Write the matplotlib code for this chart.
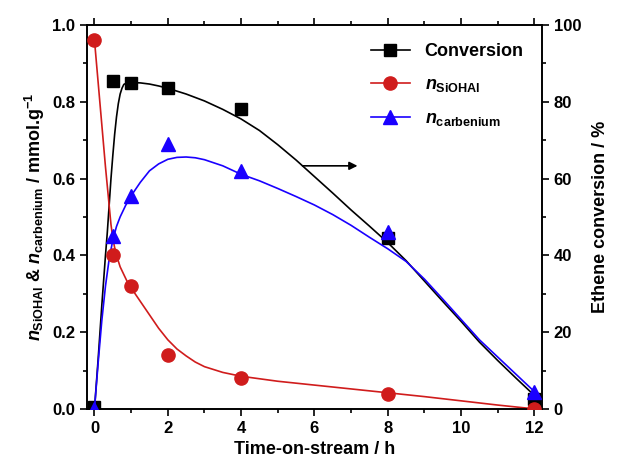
import matplotlib
matplotlib.use('Agg')
import matplotlib.pyplot as plt
from matplotlib.ticker import MultipleLocator, FormatStrFormatter

plt.rcParams['font.family'] = ['Liberation Sans', 'DejaVu Sans']
plt.rcParams['font.weight'] = 'bold'
plt.rcParams['mathtext.fontset'] = 'custom'
plt.rcParams['mathtext.rm'] = 'Liberation Sans:bold'
plt.rcParams['mathtext.bf'] = 'Liberation Sans:bold'
plt.rcParams['mathtext.it'] = 'Liberation Sans:bold:italic'

# measured points
t = [0, 0.5, 1, 2, 4, 8, 12]
conversion = [0.5, 85.5, 85, 83.6, 78, 44.5, 2.5]   # %
n_sioh = [0.96, 0.40, 0.32, 0.14, 0.08, 0.04, 0.0]
n_carb = [0.0, 0.45, 0.555, 0.69, 0.62, 0.46, 0.045]

# fitted curves
t_fit_conv = [0, 0.1, 0.2, 0.3, 0.35, 0.4, 0.45, 0.5, 0.55, 0.6, 0.65, 0.7,
              0.75, 0.8, 0.9, 1, 1.25, 1.5, 1.75, 2, 2.5, 3, 3.5, 4, 4.5, 5,
              5.5, 6, 6.5, 7, 7.5, 8, 8.5, 9, 9.5, 10, 10.5, 11, 11.5, 12]
conv_fit = [0, 13, 27, 40, 46, 53, 60, 66, 71.5, 76, 79.5, 82, 83.5, 84.5, 85,
            85, 84.9, 84.6, 84.1, 83.5, 82, 80.2, 78, 75.5, 72.5, 68.8, 64.8,
            60.5, 56.2, 51.8, 47.6, 43.3, 38.6, 33.3, 28.0, 22.8, 17.4, 12.6,
            8.0, 3.5]
t_fit_sioh = [0, 0.1, 0.2, 0.3, 0.4, 0.45, 0.5, 0.55, 0.6, 0.7, 0.8, 0.9, 1,
              1.25, 1.5, 1.75, 2, 2.25, 2.5, 2.75, 3, 3.5, 4, 5, 6, 7, 8, 9,
              10, 11, 12]
sioh_fit = [0.96, 0.85, 0.74, 0.63, 0.53, 0.48, 0.445, 0.42, 0.40, 0.37, 0.35,
            0.33, 0.315, 0.28, 0.245, 0.21, 0.18, 0.156, 0.138, 0.122, 0.11,
            0.095, 0.085, 0.072, 0.062, 0.052, 0.042, 0.032, 0.021, 0.01, 0.0]
t_fit_carb = [0, 0.1, 0.2, 0.3, 0.4, 0.5, 0.6, 0.7, 0.85, 1, 1.25, 1.5, 1.75,
              2, 2.25, 2.5, 2.75, 3, 3.5, 4, 4.5, 5, 5.5, 6, 6.5, 7, 7.5, 8,
              8.5, 9, 9.5, 10, 10.5, 11, 11.5, 12]
carb_fit = [0, 0.12, 0.23, 0.32, 0.39, 0.44, 0.475, 0.50, 0.53, 0.555, 0.59,
            0.62, 0.638, 0.65, 0.655, 0.656, 0.654, 0.649, 0.633, 0.611, 0.594,
            0.574, 0.553, 0.531, 0.506, 0.478, 0.447, 0.417, 0.384, 0.338,
            0.286, 0.233, 0.18, 0.135, 0.09, 0.045]

red = '#d01c1c'
blue = '#1a00ff'

fig = plt.figure(figsize=(6.27, 4.70), dpi=100)
ax = fig.add_axes([0.139, 0.130, 0.725, 0.817])
ax2 = ax.twinx()

ax2.plot(t_fit_conv, conv_fit, color='black', lw=1.2)
ax2.plot(t, conversion, 's', color='black', ms=8.5, zorder=5)
ax.plot(t_fit_sioh, sioh_fit, color=red, lw=1.2)
ax.plot(t, n_sioh, 'o', color=red, ms=9.5, zorder=5)
ax.plot(t_fit_carb, carb_fit, color=blue, lw=1.2)
ax.plot(t, n_carb, '^', color=blue, ms=10, zorder=5)

ax.set_zorder(ax2.get_zorder() + 1)
ax.patch.set_visible(False)

ax.annotate('', xy=(7.25, 0.633), xytext=(5.6, 0.633),
            arrowprops=dict(arrowstyle='-|>', color='black', lw=1.2,
                            mutation_scale=12))

ax.set_xlim(-0.2, 12.2)
ax.set_ylim(0, 1.0)
ax2.set_ylim(0, 100)

ax.xaxis.set_major_locator(MultipleLocator(2))
ax.xaxis.set_minor_locator(MultipleLocator(1))
ax.yaxis.set_major_locator(MultipleLocator(0.2))
ax.yaxis.set_minor_locator(MultipleLocator(0.1))
ax.yaxis.set_major_formatter(FormatStrFormatter('%.1f'))
ax2.yaxis.set_major_locator(MultipleLocator(20))
ax2.yaxis.set_minor_locator(MultipleLocator(10))

ax.tick_params(which='both', direction='out', labelsize=12, width=1.2)
ax.tick_params(which='major', length=5)
ax.tick_params(which='minor', length=3)
ax.tick_params(axis='x', which='both', top=True, labeltop=False)
ax2.tick_params(which='both', direction='out', labelsize=12, width=1.2)
ax2.tick_params(which='major', length=5)
ax2.tick_params(which='minor', length=3)
for lab in ax.get_xticklabels() + ax.get_yticklabels() + ax2.get_yticklabels():
    lab.set_fontweight('bold')

for a in (ax, ax2):
    for s in a.spines.values():
        s.set_linewidth(1.2)

ax.set_xlabel('Time-on-stream / h', fontsize=13, fontweight='bold', labelpad=4)
ax.set_ylabel(r'$n_{\mathrm{SiOHAl}}$ & $n_{\mathrm{carbenium}}$ / mmol.g$^{\mathrm{-1}}$',
              fontsize=13, fontweight='bold', labelpad=4)
ax2.set_ylabel('Ethene conversion / %', fontsize=13, fontweight='bold', labelpad=8)

h1, = ax.plot([], [], '-s', color='black', ms=8.5, lw=1.2)
h2, = ax.plot([], [], '-o', color=red, ms=9.5, lw=1.2)
h3, = ax.plot([], [], '-^', color=blue, ms=10, lw=1.2)
ax.legend([h1, h2, h3], ['Conversion', r'$n_{\mathrm{SiOHAl}}$', r'$n_{\mathrm{carbenium}}$'],
          loc='upper right', frameon=False, prop={'size': 13, 'weight': 'bold'},
          handlelength=2.2, labelspacing=0.9, borderaxespad=0.6)

fig.savefig('out.png', dpi=100)
